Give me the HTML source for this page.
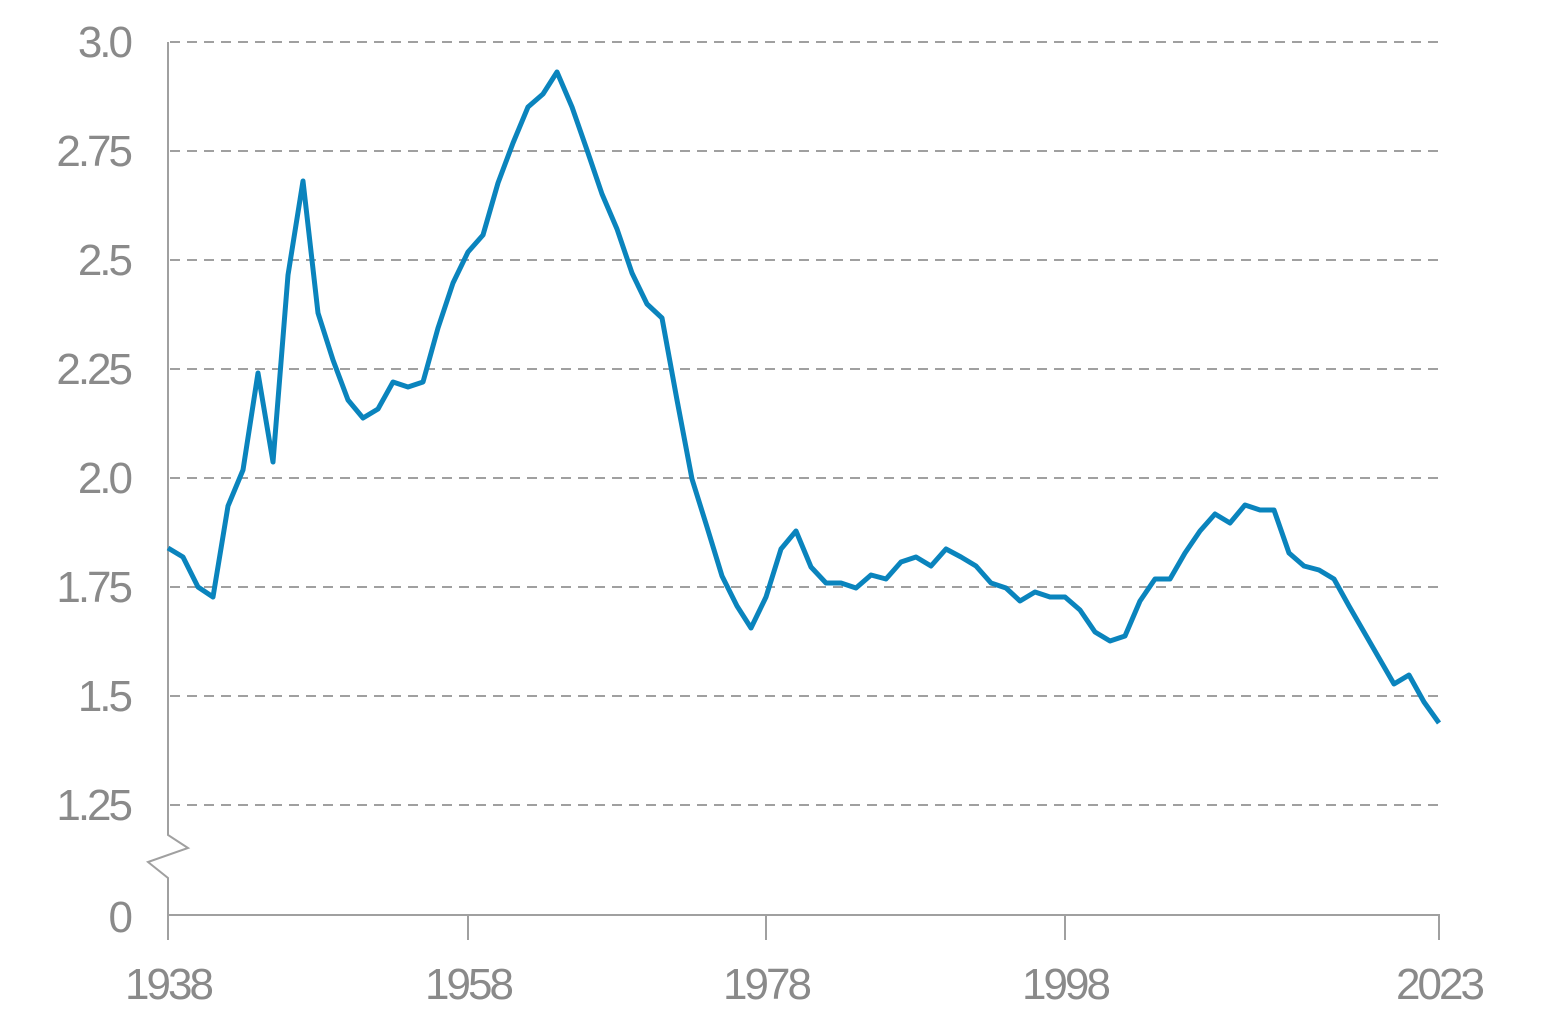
<!DOCTYPE html>
<html><head><style>body{margin:0;background:#fff}svg{display:block}text{font-family:"Liberation Sans",sans-serif;fill:#8a8a8a;font-size:44px;letter-spacing:-3px}</style></head><body>
<svg width="1548" height="1032" viewBox="0 0 1548 1032">
<g stroke="#a0a0a0" stroke-width="2" stroke-dasharray="10,7">
<line x1="170" y1="42" x2="1440" y2="42"/><line x1="170" y1="151" x2="1440" y2="151"/><line x1="170" y1="260" x2="1440" y2="260"/><line x1="170" y1="369" x2="1440" y2="369"/><line x1="170" y1="478" x2="1440" y2="478"/><line x1="170" y1="587" x2="1440" y2="587"/><line x1="170" y1="696" x2="1440" y2="696"/><line x1="170" y1="805" x2="1440" y2="805"/>
</g>
<g stroke="#a0a0a0" stroke-width="2" fill="none">
<polyline points="168,42 168,835 188,848 148,862 168,878 168,915"/>
<line x1="168" y1="915" x2="1440" y2="915"/>
<line x1="168" y1="915" x2="168" y2="940"/><line x1="468" y1="915" x2="468" y2="940"/><line x1="766" y1="915" x2="766" y2="940"/><line x1="1065" y1="915" x2="1065" y2="940"/><line x1="1439" y1="915" x2="1439" y2="940"/>
</g>
<g text-anchor="end">
<text x="130" y="57">3.0</text><text x="130" y="166">2.75</text><text x="130" y="275">2.5</text><text x="130" y="384">2.25</text><text x="130" y="493">2.0</text><text x="130" y="602">1.75</text><text x="130" y="711">1.5</text><text x="130" y="820">1.25</text><text x="130" y="932">0</text>
</g>
<g text-anchor="middle">
<text x="168" y="999">1938</text><text x="468" y="999">1958</text><text x="766" y="999">1978</text><text x="1065" y="999">1998</text><text x="1439" y="999">2023</text>
</g>
<polyline fill="none" stroke="#0a84bd" stroke-width="5" stroke-linejoin="round" points="168,548 183,557 198,587 213,597 228,506 243,470 258,373 273,462 288,275 303,181 318,313 333,360 348,400 363,418 378,409 393,382 408,387 423,382 438,328 453,283 468,252 483,235 498,183 513,143 528,107 543,94 557,72 572,107 587,150 602,194 617,229 632,273 647,304 662,318 677,400 692,479 707,527 722,576 737,606 751,628 766,597 781,549 796,531 811,567 826,583 841,583 856,588 871,575 886,579 901,562 916,557 931,566 946,549 961,557 976,566 991,583 1006,588 1020,601 1035,592 1050,597 1065,597 1080,610 1095,632 1110,641 1125,636 1140,601 1155,579 1170,579 1185,553 1200,531 1215,514 1230,523 1245,505 1260,510 1274,510 1289,553 1304,566 1319,570 1334,579 1349,606 1364,632 1379,658 1394,684 1409,675 1424,702 1439,723"/>
</svg>
</body></html>
